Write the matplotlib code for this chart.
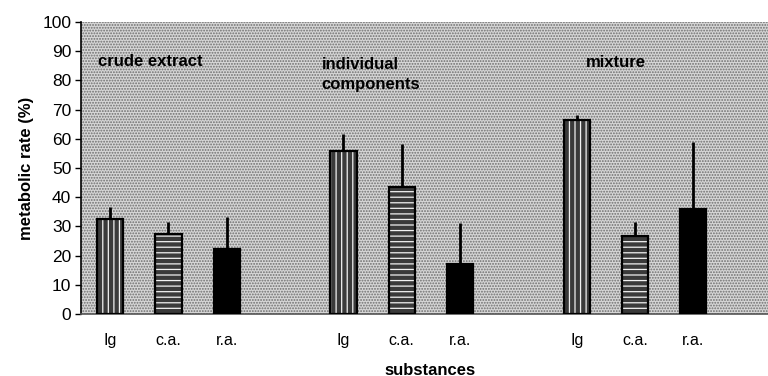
import matplotlib
matplotlib.use("Agg")
import matplotlib.pyplot as plt
import numpy as np

plt.rcParams['font.family'] = ['Liberation Sans', 'DejaVu Sans']
plt.rcParams['hatch.linewidth'] = 0.9

# Metabolic rate (%) per substance and preparation
groups = ["crude extract", "individual\ncomponents", "mixture"]
substances = ["Ig", "c.a.", "r.a."]
means = {
    "Ig":   [32.5, 55.8, 66.5],
    "c.a.": [27.5, 43.5, 26.7],
    "r.a.": [22.2, 17.1, 36.0],
}
upper_err = {
    "Ig":   [4.0, 6.0, 1.5],
    "c.a.": [4.0, 14.7, 4.8],
    "r.a.": [11.0, 14.1, 22.9],
}
yticks = [0, 10, 20, 30, 40, 50, 60, 70, 80, 90, 100]

styles = {
    "Ig":   dict(facecolor="#3a3a3a", hatch="|||", edgecolor="#f0f0f0"),
    "c.a.": dict(facecolor="#3a3a3a", hatch="---", edgecolor="#f0f0f0"),
    "r.a.": dict(facecolor="black", hatch=None, edgecolor="black"),
}

fig = plt.figure(figsize=(7.68, 3.76), dpi=100)
ax = fig.add_axes([0.1055, 0.165, 0.8945, 0.7765])

# stippled grey background
ax.set_facecolor("#d6d6d6")
bg = plt.Rectangle((0, 0), 1, 1, transform=ax.transAxes, facecolor="none",
                   edgecolor="#6e6e6e", hatch="......", linewidth=0, zorder=0)
ax.add_patch(bg)

width = 0.45
labels_pos, labels_txt = [], []
for gi in range(len(groups)):
    for si, s in enumerate(substances):
        x = gi * 4 + si
        st = styles[s]
        ax.bar(x, means[s][gi], width=width, color=st["facecolor"],
               hatch=st["hatch"], edgecolor=st["edgecolor"], linewidth=0, zorder=2)
        ax.bar(x, means[s][gi], width=width, color="none", edgecolor="black",
               linewidth=1.6, zorder=3)
        ax.errorbar(x, means[s][gi], yerr=[[0], [upper_err[s][gi]]], fmt="none",
                    ecolor="black", elinewidth=2, capsize=0, zorder=4)
        labels_pos.append(x)
        labels_txt.append(s)

ax.set_xlim(-0.5, 11.28)
ax.set_ylim(0, 100)
ax.set_yticks(yticks)
ax.set_yticklabels([str(t) for t in yticks], fontsize=12.5)
ax.set_xticks(labels_pos)
ax.set_xticklabels(labels_txt, fontsize=11.5)
ax.tick_params(axis="x", length=0, pad=14)
ax.tick_params(axis="y", length=4, width=1, direction="out", pad=3)

for side in ["top", "right"]:
    ax.spines[side].set_visible(False)
ax.spines["left"].set_linewidth(1.2)
ax.spines["bottom"].set_color("#555555")
ax.spines["bottom"].set_linewidth(1.2)

ax.set_ylabel("metabolic rate (%)", fontsize=12, fontweight="bold", labelpad=6)
xl = ax.set_xlabel("substances", fontsize=12, fontweight="bold")
xl.set_verticalalignment("center")
ax.xaxis.set_label_coords(0.508, -0.192)

ax.text(-0.21, 86.3, groups[0], fontsize=12, fontweight="bold", va="center", zorder=5)
ax.text(3.63, 82.0, groups[1], fontsize=12, fontweight="bold", va="center",
        linespacing=1.38, zorder=5)
ax.text(8.15, 86.0, groups[2], fontsize=12, fontweight="bold", va="center", zorder=5)

fig.savefig("out.png", dpi=100)
